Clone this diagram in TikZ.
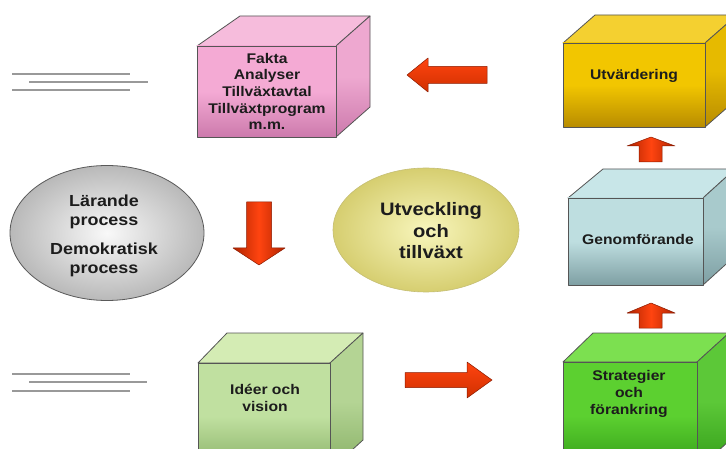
\documentclass[tikz,border=0pt]{standalone}
\usepackage{fontspec}
\setmainfont[FakeStretch=1.12]{Liberation Sans}
\usetikzlibrary{shapes.geometric}

% colours of the boxes
\definecolor{boxline}{HTML}{555555}
\definecolor{pinktop}{HTML}{F6BCDC}
\definecolor{pinkside}{HTML}{EEA8D0}
\definecolor{pinkfront}{HTML}{F4AAD4}
\definecolor{pinkbot}{HTML}{CC7AAC}
\definecolor{goldtop}{HTML}{F4D030}
\definecolor{goldside}{HTML}{E6BA00}
\definecolor{goldfront}{HTML}{F2C600}
\definecolor{goldbot}{HTML}{B88C00}
\definecolor{tealtop}{HTML}{C8E6E8}
\definecolor{tealside}{HTML}{A8CACC}
\definecolor{tealfront}{HTML}{BEDEE0}
\definecolor{tealbot}{HTML}{7E9FA3}
\definecolor{limetop}{HTML}{7CE050}
\definecolor{limeside}{HTML}{5CC838}
\definecolor{limefront}{HTML}{5CD030}
\definecolor{limebot}{HTML}{329C18}
\definecolor{sagetop}{HTML}{D4ECB4}
\definecolor{sageside}{HTML}{B4D494}
\definecolor{sagefront}{HTML}{C0E0A0}
\definecolor{sagebot}{HTML}{88B066}
\definecolor{arrowbright}{HTML}{FF4410}
\definecolor{arrowdark}{HTML}{D03000}
\definecolor{arrowedge}{HTML}{B02400}
\definecolor{arrowline}{HTML}{8A1A00}
\definecolor{eggcentre}{HTML}{F8F6BC}
\definecolor{eggrim}{HTML}{D6CE70}
\definecolor{textdark}{HTML}{1C1C1C}

\tikzset{
  boxtext/.style={align=center, text=textdark, inner sep=0pt,
    font=\bfseries\fontsize{14}{16.7}\selectfont},
  roundtext/.style={align=center, text=textdark, inner sep=0pt,
    font=\bfseries\fontsize{16}{18.5}\selectfont},
  bigtext/.style={align=center, text=textdark, inner sep=0pt,
    font=\bfseries\fontsize{18}{21.5}\selectfont},
  boxedge/.style={draw=boxline, line width=0.8pt, line join=round},
  redarrow/.style={draw=arrowline, line width=0.5pt, line join=round},
  speedline/.style={draw=gray!80, line width=1.6pt},
}

% #1,#2 front top left, #3,#4 front bottom right,
% #5 back left shift, #6 back right shift, #7 depth, #8 colour name
\newcommand{\drawbox}[8]{%
  \fill[#8top, boxedge] (#1,#2) -- (#1+#5,#2-#7) -- (#3+#6,#2-#7) -- (#3,#2) -- cycle;
  \shade[top color=#8side, bottom color=#8bot, middle color=#8side, boxedge]
    (#3,#2) -- (#3+#6,#2-#7) -- (#3+#6,#4-#7) -- (#3,#4) -- cycle;
  \shade[top color=#8front, bottom color=#8bot, middle color=#8front, boxedge]
    (#1,#2) rectangle (#3,#4);
}

\begin{document}
\begin{tikzpicture}[x=1pt, y=-1pt]
    \useasboundingbox (0,0) rectangle (726,449);
    \clip (0,0) rectangle (726,449);
    \fill[white] (0,0) rectangle (726,449);

    % lines on the left
    \draw[speedline] (12,74) -- (130,74);
    \draw[speedline] (29,82) -- (148,82);
    \draw[speedline] (12,90) -- (130,90);
    \draw[speedline] (12,374) -- (130,374);
    \draw[speedline] (29,382) -- (147,382);
    \draw[speedline] (12,391) -- (130,391);

    % boxes
    \drawbox{197}{46}{336}{137}{43}{34}{30}{pink}
    \node[boxtext] (fakta) at (267,91.5)
      {Fakta\\Analyser\\Tillväxtavtal\\Tillväxtprogram\\m.m.};

    \drawbox{563}{43}{705}{127}{32}{32}{28}{gold}
    \node[boxtext] (utvardering) at (634,76) {Utvärdering};

    \drawbox{568}{198}{703}{285}{35}{32}{29}{teal}
    \node[boxtext] (genomforande) at (638,239) {Genomförande};

    \drawbox{563}{362}{697}{470}{30}{32}{29}{lime}
    \node[boxtext] (strategier) at (629,394) {Strategier\\och\\förankring};

    \drawbox{198}{363}{330}{470}{29}{33}{30}{sage}
    \node[boxtext] (ideer) at (265,398) {Idéer och\\vision};

    % ellipses
    \node[ellipse, minimum width=194pt, minimum height=135pt, inner sep=0pt,
      draw=gray!70!black, line width=0.8pt,
      inner color=gray!5, outer color=gray!55] (larande) at (107,233) {};
    \node[roundtext] (larandetext) at (104,236)
      {Lärande\\process\\[11pt]Demokratisk\\process};

    \node[ellipse, minimum width=186pt, minimum height=124pt, inner sep=0pt,
      draw=eggrim!80!gray, line width=0.6pt,
      inner color=eggcentre, outer color=eggrim] (utveckling) at (426,230) {};
    \node[bigtext] (utvecklingtext) at (431,231) {Utveckling\\och\\tillväxt};

    % red arrows
    \shade[redarrow, top color=arrowbright, bottom color=arrowdark]
      (407,75) -- (428,58) -- (428,66.5) -- (487,66.5) -- (487,83.5)
      -- (428,83.5) -- (428,92) -- cycle;
    \shade[redarrow, top color=arrowbright, bottom color=arrowdark]
      (492,380) -- (467,362) -- (467,372.5) -- (405,372.5) -- (405,387.5)
      -- (467,387.5) -- (467,398) -- cycle;
    \shade[redarrow, left color=arrowedge, right color=arrowedge, middle color=arrowbright]
      (259,265) -- (233,248) -- (246.5,248) -- (246.5,202) -- (271.5,202)
      -- (271.5,248) -- (285,248) -- cycle;
    \shade[redarrow, left color=arrowedge, right color=arrowedge, middle color=arrowbright]
      (651,137) -- (675,146) -- (662,146) -- (662,162) -- (639,162)
      -- (639,146) -- (627,146) -- cycle;
    \shade[redarrow, left color=arrowedge, right color=arrowedge, middle color=arrowbright]
      (651,303) -- (675,313) -- (662,313) -- (662,328) -- (639,328)
      -- (639,313) -- (627,313) -- cycle;
\end{tikzpicture}
\end{document}
